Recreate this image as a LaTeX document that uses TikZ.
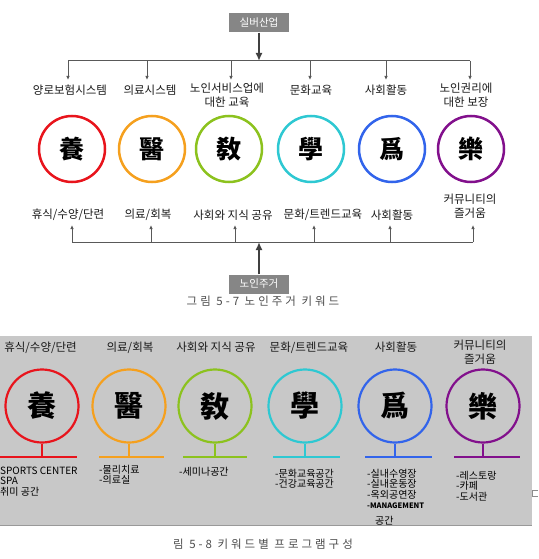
\documentclass[tikz,border=0pt]{standalone}
\usepackage{fontspec}
\usetikzlibrary{arrows.meta}
\setmainfont{Noto Sans CJK KR}
\newfontfamily\hanja{Noto Sans CJK TC}
\definecolor{yangred}{HTML}{E8141C}
\definecolor{uiorange}{HTML}{F5A01E}
\definecolor{gyogreen}{HTML}{8CC21E}
\definecolor{hakcyan}{HTML}{2EC8D2}
\definecolor{wiblue}{HTML}{3264EB}
\definecolor{nakpurple}{HTML}{82108C}
\definecolor{panelgray}{HTML}{C8C8C8}
\tikzset{
  graybox/.style={fill=gray!95, text=white, minimum width=60pt, minimum height=19pt, inner sep=0pt, font=\fontsize{10.5}{10.5}\selectfont},
  word/.style={text=black!90, align=center, inner sep=0pt, font=\fontsize{11.5}{14}\selectfont},
  ring/.style={circle, draw=#1, line width=2.5pt, minimum size=66pt, inner sep=0pt, font=\hanja\bfseries\fontsize{25}{25}\selectfont},
  bigring/.style={circle, draw=#1, line width=2.2pt, minimum size=73pt, inner sep=0pt, font=\hanja\bfseries\fontsize{29}{29}\selectfont},
  list/.style={anchor=north west, align=left, inner sep=0pt, text=black, font=\fontsize{10}{10.3}\selectfont},
  caption/.style={text=black!70, inner sep=0pt, font=\fontsize{11.5}{12}\selectfont\addfontfeature{LetterSpace=26}}
}
\begin{document}
\begin{tikzpicture}[x=1pt, y=-1pt]
  \useasboundingbox (0,0) rectangle (538,559);
  % top tree: silver industry
  \node[graybox] (silver) at (259,23) {실버산업};
  \coordinate (topmid) at (259,61);
  \coordinate (top1) at (68,61);
  \coordinate (top2) at (147,61);
  \coordinate (top3) at (231,61);
  \coordinate (top4) at (310,61);
  \coordinate (top5) at (386,61);
  \coordinate (top6) at (470,61);
  \coordinate (downtip) at (0,80);
  \draw[line width=2pt, black!75, -{Latex[length=8pt, width=7pt]}] (silver) -- (topmid);
  \draw[black!65, line width=1pt] (top1) -- (top6);
  \foreach \i in {1,...,6}
    \draw[black!65, line width=1pt, -{Latex[length=4pt, width=3.5pt]}] (top\i) -- (top\i |- downtip);
  \node[word] (need1) at (70,90) {양로보험시스템};
  \node[word] (need2) at (150,90) {의료시스템};
  \node[word] (need3) at (227,95) {노인서비스업에\\대한 교육};
  \node[word] (need4) at (311,90) {문화교육};
  \node[word] (need5) at (386,90) {사회활동};
  \node[word] (need6) at (466,95) {노인권리에\\대한 보장};
  % keyword circles
  \node[ring=yangred] (yang) at (72,149) {養};
  \node[ring=uiorange] (ui) at (152,149) {醫};
  \node[ring=gyogreen] (gyo) at (229,149) {敎};
  \node[ring=hakcyan] (hak) at (311,149) {學};
  \node[ring=wiblue] (wi) at (392,149) {爲};
  \node[ring=nakpurple] (nak) at (471,149) {樂};
  % bottom tree: senior housing
  \node[word] (rest) at (68,215) {휴식/수양/단련};
  \node[word] (cure) at (148,215) {의료/회복};
  \node[word] (share) at (233,215) {사회와 지식 공유};
  \node[word] (trend) at (323,215) {문화/트렌드교육};
  \node[word] (social) at (392,215) {사회활동};
  \node[word] (joy) at (470,206) {커뮤니티의\\즐거움};
  \node[graybox] (housing) at (259,284) {노인주거};
  \coordinate (botmid) at (259,242);
  \coordinate (bot1) at (72,242);
  \coordinate (bot2) at (151,242);
  \coordinate (bot3) at (235,242);
  \coordinate (bot4) at (314,242);
  \coordinate (bot5) at (390,242);
  \coordinate (bot6) at (473,242);
  \coordinate (uptip) at (0,225);
  \draw[line width=2pt, black!75, -{Latex[length=8pt, width=7pt]}] (housing) -- (botmid);
  \draw[black!65, line width=1pt] (bot1) -- (bot6);
  \foreach \i in {1,...,6}
    \draw[black!65, line width=1pt, -{Latex[length=4pt, width=3.5pt]}] (bot\i) -- (bot\i |- uptip);
  \node[caption] (cap1) at (263,301) {그림 5-7 노인주거 키워드};
  % program panel
  \fill[panelgray] (0,336) rectangle (532,525);
  \draw[black!40] (0,525) -- (532,525);
  \draw[black!45] (538,490) -- (532,490) -- (532,496) -- (538,496);
  \node[word, anchor=east] (rest2) at (77,347.5) {휴식/수양/단련};
  \node[word] (cure2) at (130,347.5) {의료/회복};
  \node[word] (share2) at (216,347.5) {사회와 지식 공유};
  \node[word] (trend2) at (309,347.5) {문화/트렌드교육};
  \node[word] (social2) at (396,347.5) {사회활동};
  \node[word] (joy2) at (480,352) {커뮤니티의\\즐거움};
  \node[bigring=yangred] (yang2) at (42,406) {養};
  \node[bigring=uiorange] (ui2) at (129,406) {醫};
  \node[bigring=gyogreen] (gyo2) at (215,406) {敎};
  \node[bigring=hakcyan] (hak2) at (305,406) {學};
  \node[bigring=wiblue] (wi2) at (395,406) {爲};
  \node[bigring=nakpurple] (nak2) at (483,406) {樂};
  \coordinate (stemline) at (0,457);
  \draw[yangred, line width=1.2pt] (yang2.south) -- (yang2.south |- stemline) (0,457) -- (77,457);
  \draw[uiorange, line width=1.2pt] (ui2.south) -- (ui2.south |- stemline) (99,457) -- (164,457);
  \draw[gyogreen, line width=1.2pt] (gyo2.south) -- (gyo2.south |- stemline) (183,457) -- (247,457);
  \draw[hakcyan, line width=1.2pt] (hak2.south) -- (hak2.south |- stemline) (273,457) -- (340,457);
  \draw[wiblue, line width=1.2pt] (wi2.south) -- (wi2.south |- stemline) (365,457) -- (432,457);
  \draw[nakpurple, line width=1.2pt] (nak2.south) -- (nak2.south |- stemline) (454,457) -- (520,457);
  % program lists
  \node[list] (yanglist) at (0,467) {SPORTS CENTER\\SPA\\취미 공간};
  \node[list] (uilist) at (99,465) {-물리치료\\-의료실};
  \node[list] (gyolist) at (179,467) {-세미나공간};
  \node[list] (haklist) at (275,469) {-문화교육공간\\-건강교육공간};
  \node[list] (wilist) at (367,469) {-실내수영장\\-실내운동장\\-옥외공연장\\{\bfseries\fontsize{7.5}{10.3}\selectfont -MANAGEMENT}};
  \node[list, anchor=west] (wispace) at (375,521) {공간};
  \node[list] (naklist) at (456,471) {-레스토랑\\-카페\\-도서관};
  \node[caption] (cap2) at (263,544) {림 5-8 키워드별 프로그램구성};
\end{tikzpicture}
\end{document}
